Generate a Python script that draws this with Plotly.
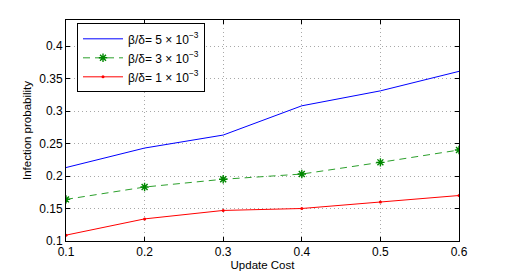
import plotly.graph_objects as go

update_cost = [0.1, 0.2, 0.3, 0.4, 0.5, 0.6]
series_5e3 = [0.213, 0.243, 0.263, 0.308, 0.331, 0.361]
series_3e3 = [0.164, 0.183, 0.195, 0.203, 0.221, 0.240]
series_1e3 = [0.109, 0.134, 0.147, 0.150, 0.160, 0.170]
names = ["β/δ= 5 × 10<sup>−3</sup>", "β/δ= 3 × 10<sup>−3</sup>", "β/δ= 1 × 10<sup>−3</sup>"]
x_ticks = [0.1, 0.2, 0.3, 0.4, 0.5, 0.6]
y_ticks = [0.1, 0.15, 0.2, 0.25, 0.3, 0.35, 0.4]
y_tick_labels = ["0.1", "0.15", "0.2", "0.25", "0.3", "0.35", "0.4"]

font = "Liberation Sans, Arial, sans-serif"
fig = go.Figure()
fig.add_trace(go.Scatter(x=update_cost, y=series_5e3, mode="lines", name=names[0],
                         line=dict(color="#0000ff", width=1)))
fig.add_trace(go.Scatter(x=update_cost, y=series_3e3, mode="lines+markers", name=names[1],
                         line=dict(color="#2ca02c", width=1, dash="7px,5px"),
                         marker=dict(symbol="asterisk-open", size=7, color="#008800",
                                     line=dict(width=1.4, color="#008800"))))
fig.add_trace(go.Scatter(x=update_cost, y=series_1e3, mode="lines+markers", name=names[2],
                         line=dict(color="#ff0000", width=1),
                         marker=dict(symbol="circle", size=3, color="#ff0000")))

axis_common = dict(showline=True, linecolor="black", linewidth=1, mirror="ticks",
                   ticks="inside", ticklen=4, tickcolor="black", automargin=False,
                   showgrid=True, gridcolor="#a8a8a8", griddash="1px,3px", gridwidth=1,
                   zeroline=False, tickfont=dict(family=font, size=12, color="black"))
fig.update_layout(
    width=507, height=273,
    margin=dict(l=66, r=48, t=20, b=32),
    paper_bgcolor="white", plot_bgcolor="white",
    font=dict(family=font, size=11, color="black"),
    xaxis=dict(range=[0.1, 0.6], tickvals=x_ticks, ticktext=[str(v) for v in x_ticks],
               title=dict(text="Update Cost", standoff=2, font=dict(size=11.5)), **axis_common),
    yaxis=dict(range=[0.1, 0.44], tickvals=y_ticks, ticktext=y_tick_labels,
               title=dict(text="Infection probability", standoff=5, font=dict(size=11.5)), **axis_common),
    legend=dict(x=0.028, y=0.985, xanchor="left", yanchor="top", bgcolor="white",
                bordercolor="black", borderwidth=1, font=dict(family=font, size=12),
                tracegroupgap=0, itemwidth=40),
    showlegend=True,
)
fig.write_html("out.html", config={"displayModeBar": False},
               post_script="document.body.style.margin='0px';")
